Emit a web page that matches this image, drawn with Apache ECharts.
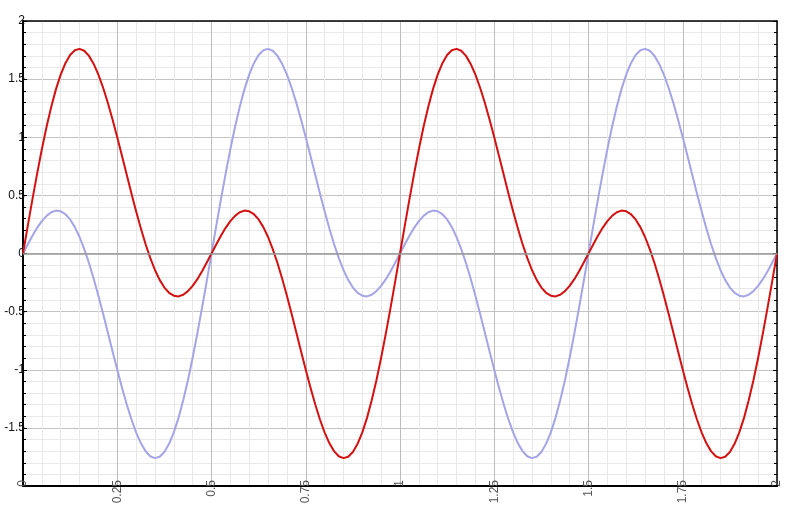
<!DOCTYPE html>
<html>
<head>
<meta charset="utf-8">
<script src="https://cdn.jsdelivr.net/npm/echarts@6/dist/echarts.min.js"></script>
<style>html,body{margin:0;padding:0;background:#fff;}#c{width:792px;height:509px;}</style>
</head>
<body>
<div id="c"></div>
<script>
var xs = [
0,0.0125,0.025,0.0375,0.05,0.0625,0.075,0.0875,0.1,0.1125,0.125,0.1375,0.15,0.1625,0.175,0.1875,0.2,0.2125,0.225,0.2375,
0.25,0.2625,0.275,0.2875,0.3,0.3125,0.325,0.3375,0.35,0.3625,0.375,0.3875,0.4,0.4125,0.425,0.4375,0.45,0.4625,0.475,0.4875,
0.5,0.5125,0.525,0.5375,0.55,0.5625,0.575,0.5875,0.6,0.6125,0.625,0.6375,0.65,0.6625,0.675,0.6875,0.7,0.7125,0.725,0.7375,
0.75,0.7625,0.775,0.7875,0.8,0.8125,0.825,0.8375,0.85,0.8625,0.875,0.8875,0.9,0.9125,0.925,0.9375,0.95,0.9625,0.975,0.9875,
1,1.0125,1.025,1.0375,1.05,1.0625,1.075,1.0875,1.1,1.1125,1.125,1.1375,1.15,1.1625,1.175,1.1875,1.2,1.2125,1.225,1.2375,
1.25,1.2625,1.275,1.2875,1.3,1.3125,1.325,1.3375,1.35,1.3625,1.375,1.3875,1.4,1.4125,1.425,1.4375,1.45,1.4625,1.475,1.4875,
1.5,1.5125,1.525,1.5375,1.55,1.5625,1.575,1.5875,1.6,1.6125,1.625,1.6375,1.65,1.6625,1.675,1.6875,1.7,1.7125,1.725,1.7375,
1.75,1.7625,1.775,1.7875,1.8,1.8125,1.825,1.8375,1.85,1.8625,1.875,1.8875,1.9,1.9125,1.925,1.9375,1.95,1.9625,1.975,1.9875,
2];

var redY = [
0,0.235,0.465,0.687,0.897,1.090,1.263,1.414,1.539,1.637,1.707,1.748,1.760,1.744,1.700,1.631,1.539,1.426,1.297,1.153,
1.000,0.841,0.679,0.518,0.363,0.217,0.082,-0.038,-0.142,-0.227,-0.293,-0.338,-0.363,-0.369,-0.355,-0.324,-0.279,-0.221,-0.153,-0.078,
0,0.078,0.153,0.221,0.279,0.324,0.355,0.369,0.363,0.338,0.293,0.227,0.142,0.038,-0.082,-0.217,-0.363,-0.518,-0.679,-0.841,
-1.000,-1.153,-1.297,-1.426,-1.539,-1.631,-1.700,-1.744,-1.760,-1.748,-1.707,-1.637,-1.539,-1.414,-1.263,-1.090,-0.897,-0.687,-0.465,-0.235,
0,0.235,0.465,0.687,0.897,1.090,1.263,1.414,1.539,1.637,1.707,1.748,1.760,1.744,1.700,1.631,1.539,1.426,1.297,1.153,
1.000,0.841,0.679,0.518,0.363,0.217,0.082,-0.038,-0.142,-0.227,-0.293,-0.338,-0.363,-0.369,-0.355,-0.324,-0.279,-0.221,-0.153,-0.078,
0,0.078,0.153,0.221,0.279,0.324,0.355,0.369,0.363,0.338,0.293,0.227,0.142,0.038,-0.082,-0.217,-0.363,-0.518,-0.679,-0.841,
-1.000,-1.153,-1.297,-1.426,-1.539,-1.631,-1.700,-1.744,-1.760,-1.748,-1.707,-1.637,-1.539,-1.414,-1.263,-1.090,-0.897,-0.687,-0.465,-0.235,
0];

var blueY = [
0,0.078,0.153,0.221,0.279,0.324,0.355,0.369,0.363,0.338,0.293,0.227,0.142,0.038,-0.082,-0.217,-0.363,-0.518,-0.679,-0.841,
-1.000,-1.153,-1.297,-1.426,-1.539,-1.631,-1.700,-1.744,-1.760,-1.748,-1.707,-1.637,-1.539,-1.414,-1.263,-1.090,-0.897,-0.687,-0.465,-0.235,
0,0.235,0.465,0.687,0.897,1.090,1.263,1.414,1.539,1.637,1.707,1.748,1.760,1.744,1.700,1.631,1.539,1.426,1.297,1.153,
1.000,0.841,0.679,0.518,0.363,0.217,0.082,-0.038,-0.142,-0.227,-0.293,-0.338,-0.363,-0.369,-0.355,-0.324,-0.279,-0.221,-0.153,-0.078,
0,0.078,0.153,0.221,0.279,0.324,0.355,0.369,0.363,0.338,0.293,0.227,0.142,0.038,-0.082,-0.217,-0.363,-0.518,-0.679,-0.841,
-1.000,-1.153,-1.297,-1.426,-1.539,-1.631,-1.700,-1.744,-1.760,-1.748,-1.707,-1.637,-1.539,-1.414,-1.263,-1.090,-0.897,-0.687,-0.465,-0.235,
0,0.235,0.465,0.687,0.897,1.090,1.263,1.414,1.539,1.637,1.707,1.748,1.760,1.744,1.700,1.631,1.539,1.426,1.297,1.153,
1.000,0.841,0.679,0.518,0.363,0.217,0.082,-0.038,-0.142,-0.227,-0.293,-0.338,-0.363,-0.369,-0.355,-0.324,-0.279,-0.221,-0.153,-0.078,
0];

var hiddenYLabels = [-2];

function pairs(ys){ var out=[]; for(var i=0;i<xs.length;i++){ out.push([xs[i], ys[i]]); } return out; }

var chart = echarts.init(document.getElementById('c'), null, {renderer:'canvas'});
var font = '"Liberation Sans", Arial, sans-serif';
chart.setOption({
  animation:false,
  backgroundColor:'#ffffff',
  grid:{left:23, right:15, top:21, bottom:23, containLabel:false},
  xAxis:[{
    type:'value', min:0, max:2, interval:0.25,
    axisLine:{show:true, onZero:false, lineStyle:{color:'#000', width:2}},
    axisTick:{show:false},
    axisLabel:{rotate:90, margin:-6, color:'#555', fontSize:12, fontFamily:font},
    splitLine:{show:true, lineStyle:{color:'#bdbdbd', width:1}},
    minorTick:{show:false, splitNumber:5},
    minorSplitLine:{show:true, lineStyle:{color:'#e8e8e8', width:1}}
  },{
    type:'value', min:0, max:2, position:'top',
    axisLine:{show:true, onZero:false, lineStyle:{color:'#000', width:1.5}},
    axisTick:{show:false}, axisLabel:{show:false}, splitLine:{show:false}
  }],
  yAxis:[{
    type:'value', min:-2, max:2, interval:0.5,
    axisLine:{show:true, onZero:false, lineStyle:{color:'#000', width:2}},
    axisTick:{show:true, inside:true, length:4, lineStyle:{color:'#000'}},
    minorTick:{show:true, splitNumber:5, length:3, lineStyle:{color:'#000'}},
    axisLabel:{margin:-2, color:'#111', fontSize:12, fontFamily:font,
      formatter:function(v){ return hiddenYLabels.indexOf(v)>=0 ? '' : String(v); }},
    splitLine:{show:true, lineStyle:{color:'#c4c4c4', width:1}},
    minorSplitLine:{show:true, lineStyle:{color:'#e8e8e8', width:1}}
  },{
    type:'value', min:-2, max:2, interval:0.5, position:'right',
    axisLine:{show:true, onZero:false, lineStyle:{color:'#000', width:1.5}},
    axisTick:{show:true, inside:true, length:4, lineStyle:{color:'#000'}},
    minorTick:{show:true, splitNumber:5, length:3, lineStyle:{color:'#000'}},
    axisLabel:{show:false}, splitLine:{show:false}
  }],
  series:[{
    type:'line', data:pairs(blueY), smooth:false, showSymbol:false,
    lineStyle:{color:'#a4a4e6', width:2, join:'round'}, itemStyle:{color:'#a4a4e6'},
    markLine:{silent:true, symbol:'none', label:{show:false},
      lineStyle:{color:'#999', width:1.5, type:'solid'}, data:[{yAxis:0}]},
    z:2
  },{
    type:'line', data:pairs(redY), smooth:false, showSymbol:false,
    lineStyle:{color:'#d41111', width:2, join:'round'}, itemStyle:{color:'#d41111'},
    z:3
  }]
});
</script>
</body>
</html>
